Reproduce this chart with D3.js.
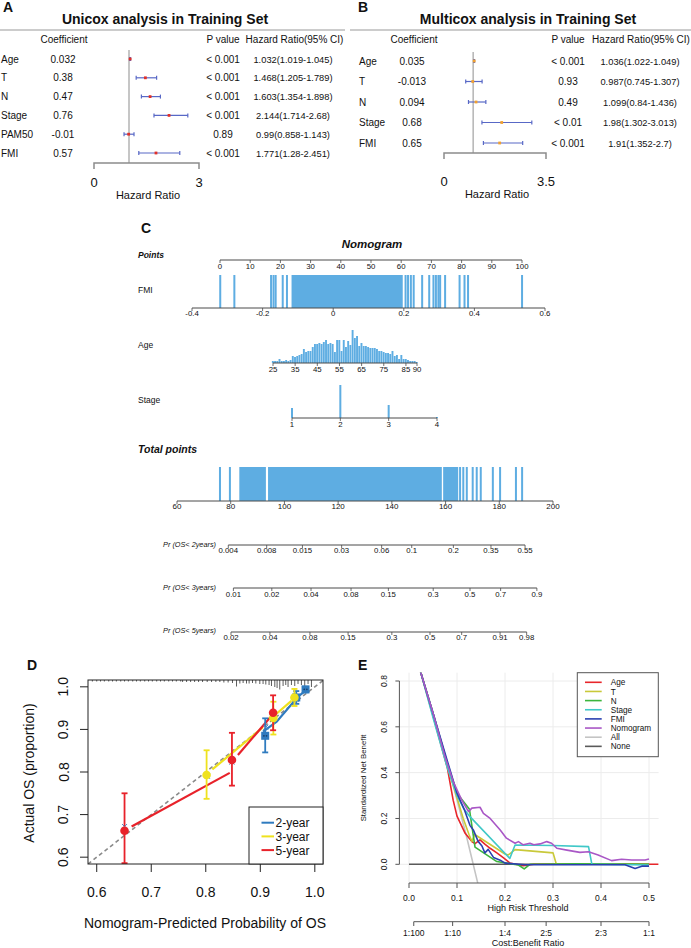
<!DOCTYPE html>
<html>
<head>
<meta charset="utf-8">
<script src="https://cdn.jsdelivr.net/npm/d3@7"></script>
<style>
  body { margin: 0; background: #fff; }
  svg { display: block; }
  text { font-family: "Liberation Sans", Arial, Helvetica, sans-serif; fill: #111; }
</style>
</head>
<body>
<svg id="fig" width="691" height="948"></svg>
<script>
// ---------- panel A : univariate cox ----------
const uniVars = ["Age", "T", "N", "Stage", "PAM50", "FMI"];
const uniCoef = ["0.032", "0.38", "0.47", "0.76", "-0.01", "0.57"];
const uniP = ["< 0.001", "< 0.001", "< 0.001", "< 0.001", "0.89", "< 0.001"];
const uniHR = [1.032, 1.468, 1.603, 2.144, 0.99, 1.771];
const uniLo = [1.019, 1.205, 1.354, 1.714, 0.858, 1.28];
const uniHi = [1.045, 1.789, 1.898, 2.68, 1.143, 2.451];

// ---------- panel B : multivariate cox ----------
const multiVars = ["Age", "T", "N", "Stage", "FMI"];
const multiCoef = ["0.035", "-0.013", "0.094", "0.68", "0.65"];
const multiP = ["< 0.001", "0.93", "0.49", "< 0.01", "< 0.001"];
const multiHR = [1.036, 0.987, 1.099, 1.98, 1.91];
const multiLo = [1.022, 0.745, 0.84, 1.302, 1.352];
const multiHi = [1.049, 1.307, 1.436, 3.013, 2.7];

// ---------- panel C : nomogram ----------
const pointsTicks = [0, 10, 20, 30, 40, 50, 60, 70, 80, 90, 100];
const fmiTicks = [-0.4, -0.2, 0, 0.2, 0.4, 0.6];
const fmiRug = [-0.32, -0.28, -0.176, -0.169, -0.163, -0.143, -0.131, 0.205, 0.212, 0.22, 0.228,
  0.252, 0.272, 0.284, 0.291, 0.298, 0.303, 0.317, 0.358, 0.372, 0.382, 0.535];
const fmiDense = [[-0.118, 0.197]];
const ageTicks = [25, 35, 45, 55, 65, 75, 85, 90];
const ageYears = [25, 26, 27, 28, 29, 30, 31, 32, 33, 34, 35, 36, 37, 38, 39, 40, 41, 42, 43, 44, 45,
  46, 47, 48, 49, 50, 51, 52, 53, 54, 55, 56, 57, 58, 59, 60, 61, 62, 63, 64, 65, 66, 67, 68, 69, 70,
  71, 72, 73, 74, 75, 76, 77, 78, 79, 80, 81, 82, 83, 84, 85, 86, 87, 88, 89, 90];
const ageCounts = [2, 2, 2, 4, 2, 2, 3, 2, 3, 7, 6, 7, 8, 9, 14, 11, 12, 12, 16, 19, 19,
  20, 19, 21, 23, 19, 20, 19, 11, 23, 23, 12, 23, 16, 22, 18, 33, 25, 27, 17, 20, 17, 17, 16, 15, 15,
  15, 14, 12, 12, 11, 10, 10, 9, 12, 7, 8, 4, 8, 4, 4, 3, 2, 2, 2, 1];
const stageLevels = [1, 2, 3, 4];
const stageCounts = [10, 33, 13, 1];
const totalTicks = [60, 80, 100, 120, 140, 160, 180, 200];
const totalRug = [76.0, 79.7, 165.4, 166.6, 167.9, 170.1, 171.6, 173.1, 177.6, 180.3, 186.2, 188.5];
const totalDense = [[83.2, 93.1], [93.9, 158.6], [159.1, 164.7]];
const pr2Labels = ["0.004", "0.008", "0.015", "0.03", "0.06", "0.1", "0.2", "0.35", "0.55"];
const pr2Points = [79.1, 93.4, 106.7, 121.3, 136.2, 147.4, 162.9, 176.9, 189.6];
const pr3Labels = ["0.01", "0.02", "0.04", "0.08", "0.15", "0.3", "0.5", "0.7", "0.9"];
const pr3Points = [81.0, 95.3, 109.9, 124.8, 138.7, 155.4, 169.1, 180.5, 194.0];
const pr5Labels = ["0.02", "0.04", "0.08", "0.15", "0.3", "0.5", "0.7", "0.91", "0.98"];
const pr5Points = [80.1, 94.6, 109.5, 123.7, 140.0, 154.2, 166.0, 180.3, 190.2];

// ---------- panel D : calibration ----------
const calTicks = [0.6, 0.7, 0.8, 0.9, 1.0];
const cal2 = {pred: [0.909, 0.966, 0.983], obs: [0.885, 0.975, 0.994], lo: [0.846, 0.96, 0.987], hi: [0.926, 0.99, 1.0]};
const cal3 = {pred: [0.8015, 0.924, 0.9626], obs: [0.793, 0.927, 0.975], lo: [0.737, 0.888, 0.955], hi: [0.851, 0.965, 0.995]};
const cal5 = {pred: [0.651, 0.848, 0.9235], obs: [0.662, 0.828, 0.939], lo: [0.586, 0.768, 0.898], hi: [0.75, 0.892, 0.98]};
const line2 = [[[0.905, 0.895], [0.93, 0.918], [0.962, 0.966]], [[0.972, 0.98], [0.982, 0.99]]];
const line3 = [[[0.812, 0.806], [0.905, 0.905]], [[0.928, 0.935], [0.957, 0.967]]];
const line5 = [[[0.664, 0.672], [0.844, 0.798]], [[0.859, 0.84], [0.918, 0.928]]];
const corrected = [[0.651, 0.672], [0.848, 0.823], [0.803, 0.79], [0.924, 0.93], [0.91, 0.905], [0.966, 0.97]];
const rugX = [0.592, 0.6, 0.607, 0.614, 0.622, 0.629, 0.636, 0.644, 0.651, 0.658, 0.666, 0.673, 0.68,
  0.688, 0.695, 0.702, 0.71, 0.717, 0.724, 0.732, 0.739, 0.746, 0.754, 0.7575, 0.7648, 0.7722, 0.7795,
  0.7868, 0.7941, 0.8026, 0.8106, 0.8185, 0.8258, 0.8332, 0.841, 0.849, 0.8564, 0.8625, 0.8685, 0.8747,
  0.8795, 0.8857, 0.8918, 0.8991, 0.9051, 0.9101, 0.9161, 0.9205, 0.9266, 0.9308, 0.9357, 0.9418,
  0.9467, 0.9509, 0.9571, 0.9632, 0.9692, 0.9754, 0.9815, 0.9876, 0.9938];
const rugH = [1.5, 1.5, 1.5, 1.5, 1.5, 1.5, 1.5, 1.5, 1.5, 1.5, 1.5, 1.5, 1.5,
  1.5, 1.5, 1.5, 1.5, 1.5, 1.5, 1.5, 1.5, 1.5, 1.5, 2, 2, 2, 2,
  2, 2, 2, 2, 2, 2, 2.5, 2.5, 3, 6.5, 3.5, 3, 3.5,
  3.5, 3, 3.5, 4, 4, 4.5, 5, 6, 7, 8, 9.5, 6,
  5, 7, 5, 6, 4, 5, 6, 4, 7];

// ---------- panel E : decision curves ----------
const dcaTicks = [0, 0.1, 0.2, 0.3, 0.4, 0.5];
const dcaYTicks = [0, 0.2, 0.4, 0.6, 0.8];
const cbLabels = ["1:100", "1:10", "1:4", "2:5", "2:3", "1:1"];
const cbThresholds = [0.0099, 0.0909, 0.2, 0.2857, 0.4, 0.5];
const ageNB = [[0.02, 0.868], [0.025, 0.834], [0.05, 0.65], [0.08, 0.42], [0.092, 0.28], [0.1, 0.21], [0.117, 0.135],
  [0.131, 0.099], [0.1375, 0.09], [0.148, 0.107], [0.158, 0.088], [0.169, 0.07], [0.183, 0.05], [0.197, 0.028],
  [0.21, 0.006], [0.238, -0.006], [0.26, 0.0], [0.52, 0.0]];
const tNB = [[0.02, 0.868], [0.025, 0.834], [0.05, 0.65], [0.08, 0.43], [0.1, 0.29], [0.113, 0.2], [0.125, 0.13],
  [0.131, 0.1], [0.137, 0.13], [0.2, 0.045], [0.207, 0.041], [0.221, 0.064], [0.3, 0.05], [0.307, 0.0], [0.5, 0.0]];
const nNB = [[0.02, 0.868], [0.025, 0.834], [0.05, 0.66], [0.08, 0.44], [0.1, 0.31], [0.115, 0.27], [0.126, 0.24],
  [0.1375, 0.075], [0.183, 0.012], [0.228, -0.003], [0.24, -0.02], [0.252, 0.0], [0.35, 0.002], [0.5, 0.0]];
const stageNB = [[0.02, 0.868], [0.025, 0.834], [0.05, 0.64], [0.08, 0.42], [0.1, 0.3], [0.115, 0.24], [0.127, 0.208],
  [0.21, 0.026], [0.221, 0.084], [0.3, 0.082], [0.374, 0.077], [0.381, 0.0], [0.5, -0.003]];
const fmiNB = [[0.02, 0.868], [0.025, 0.834], [0.05, 0.66], [0.08, 0.45], [0.1, 0.31], [0.115, 0.24], [0.127, 0.17],
  [0.134, 0.15], [0.144, 0.1], [0.152, 0.08], [0.158, 0.05], [0.165, 0.065], [0.176, 0.03], [0.19, 0.018],
  [0.2, 0.005], [0.242, -0.002], [0.45, -0.002], [0.471, -0.018], [0.485, -0.008], [0.5, -0.008]];
const nomoNB = [[0.02, 0.868], [0.025, 0.834], [0.05, 0.66], [0.075, 0.47], [0.0923, 0.36], [0.11, 0.28], [0.124, 0.23],
  [0.131, 0.245], [0.148, 0.249], [0.155, 0.222], [0.169, 0.2], [0.19, 0.15], [0.203, 0.114], [0.221, 0.092],
  [0.228, 0.099], [0.238, 0.085], [0.252, 0.092], [0.26, 0.085], [0.273, 0.089], [0.287, 0.099], [0.297, 0.092],
  [0.308, 0.07], [0.329, 0.062], [0.356, 0.052], [0.374, 0.055], [0.394, 0.041], [0.422, 0.016], [0.443, 0.022],
  [0.464, 0.019], [0.492, 0.019], [0.5, 0.023]];
const allNB = [[0.02, 0.868], [0.025, 0.834], [0.05, 0.66], [0.075, 0.476], [0.1, 0.282], [0.12, 0.12], [0.143, -0.08], [0.147, -0.12]];
const noneNB = [[0, 0], [0.5, 0]];

const svg = d3.select("#fig");

function label(g, x, y, s, size, o = {}) {
  const t = g.append("text").attr("x", x).attr("y", y).text(s)
    .style("font-size", size + "px")
    .attr("text-anchor", o.anchor || "start");
  if (o.weight) t.style("font-weight", o.weight);
  if (o.italic) t.style("font-style", "italic");
  if (o.rotate) t.attr("transform", `rotate(-90,${x},${y})`);
  return t;
}

// ================= forest plots =================
function forest(o) {
  const g = svg.append("g");
  const x = d3.scaleLinear().domain(o.domain).range(o.range);
  const y = d3.scalePoint().domain(o.vars).range(o.rows);

  label(g, o.letterX, 12, o.letter, 14, {weight: "bold"});
  label(g, o.titleX, 24, o.title, 14, {weight: "bold", anchor: "middle"});
  g.append("line").attr("x1", o.rule[0]).attr("x2", o.rule[1]).attr("y1", 30).attr("y2", 30)
    .attr("stroke", "#9a9a9a").attr("stroke-width", 1.2);

  label(g, o.hCoef, 43, "Coefficient", 10, {anchor: "middle"});
  label(g, o.colP, 43, "P value", 10, {anchor: "middle"});
  label(g, o.hHR, 43, "Hazard Ratio(95% CI)", 10, {anchor: "middle"});

  o.vars.forEach((v, i) => {
    const yy = y(v) + 3.5;
    label(g, o.colName, yy, v, 10);
    label(g, o.colCoef, yy, o.coef[i], 10, {anchor: "middle"});
    label(g, o.colP, yy, o.p[i], 10, {anchor: "middle"});
    label(g, o.colHR, yy, `${o.hr[i]}(${o.lo[i]}-${o.hi[i]})`, 9.3, {anchor: "middle"});
  });

  // reference line at HR = 1
  g.append("line").attr("x1", x(1)).attr("x2", x(1))
    .attr("y1", o.rows[0] - 9).attr("y2", o.axisY)
    .attr("stroke", "#a8a8a8").attr("stroke-width", 1.3);

  const ci = g.append("g").attr("stroke", "#5868c6").attr("stroke-width", 1.2);
  o.vars.forEach((v, i) => {
    const yy = y(v);
    ci.append("line").attr("x1", x(o.lo[i])).attr("x2", x(o.hi[i])).attr("y1", yy).attr("y2", yy);
    [o.lo[i], o.hi[i]].forEach(e => ci.append("line")
      .attr("x1", x(e)).attr("x2", x(e)).attr("y1", yy - 2).attr("y2", yy + 2));
  });
  g.selectAll(".dot").data(o.hr).join("rect")
    .attr("x", d => x(d) - 1.4).attr("y", (d, i) => y(o.vars[i]) - 1.4)
    .attr("width", 2.8).attr("height", 2.8).attr("fill", o.dot);

  // axis bracket
  const [d0, d1] = o.domain;
  g.append("path")
    .attr("d", `M${x(d0)},${o.axisY + 6}V${o.axisY}H${x(d1)}V${o.axisY + 6}`)
    .attr("fill", "none").attr("stroke", "#8c8c8c").attr("stroke-width", 1.5);
  o.domain.forEach(t => label(g, x(t), o.tickY, String(t), 13, {anchor: "middle"}));
  label(g, o.hrLabelX, o.hrTitleY, "Hazard Ratio", 11, {anchor: "middle"});
}

forest({
  letter: "A", letterX: 3, title: "Unicox analysis in Training Set", titleX: 165, rule: [0, 345],
  vars: uniVars, coef: uniCoef, p: uniP, hr: uniHR, lo: uniLo, hi: uniHi,
  domain: [0, 3], range: [94, 199], rows: [59, 153], axisY: 163, tickY: 186.5, hrTitleY: 199, hrLabelX: 148,
  colName: 1, colCoef: 63, hCoef: 64, colP: 223, colHR: 293, hHR: 294.5, dot: "#e0302a"
});
forest({
  letter: "B", letterX: 358, title: "Multicox analysis in Training Set", titleX: 528, rule: [350, 691],
  vars: multiVars, coef: multiCoef, p: multiP, hr: multiHR, lo: multiLo, hi: multiHi,
  domain: [0, 3.5], range: [444, 546], rows: [61, 143], axisY: 153, tickY: 186, hrTitleY: 198, hrLabelX: 497,
  colName: 359, colCoef: 412, hCoef: 414, colP: 568, colHR: 640, hHR: 641, dot: "#f0a030"
});

// ================= nomogram =================
const nomo = svg.append("g");
const barColor = "#5eade2";
const ptsX = d3.scaleLinear().domain([0, 100]).range([220, 522]);
const fmiX = d3.scaleLinear().domain([-0.4, 0.6]).range([192, 545]);
const ageX = d3.scaleLinear().domain([25, 90]).range([273, 417]);
const stageX = d3.scaleLinear().domain([1, 4]).range([292, 437]);
const totX = d3.scaleLinear().domain([60, 200]).range([177, 553]);

function nomoAxis(xs, ext, ticks, labels, y, labelY, size) {
  nomo.append("line").attr("x1", xs(ext[0])).attr("x2", xs(ext[1])).attr("y1", y).attr("y2", y)
    .attr("stroke", "#4a4a4a").attr("stroke-width", 1);
  ticks.forEach((t, i) => {
    nomo.append("line").attr("x1", xs(t)).attr("x2", xs(t)).attr("y1", y).attr("y2", y + 3)
      .attr("stroke", "#4a4a4a").attr("stroke-width", 0.8);
    label(nomo, xs(t), labelY, labels[i], size, {anchor: "middle"});
  });
}

label(nomo, 141, 233, "C", 14, {weight: "bold"});
label(nomo, 372, 248, "Nomogram", 11.5, {weight: "bold", italic: true, anchor: "middle"});
label(nomo, 138, 258, "Points", 8.5, {weight: "bold", italic: true});
nomoAxis(ptsX, [0, 100], pointsTicks, pointsTicks.map(String), 260, 268.5, 7.8);

// FMI
label(nomo, 138, 293, "FMI", 8.5);
nomo.selectAll(".fmiDense").data(fmiDense).join("rect")
  .attr("x", d => fmiX(d[0])).attr("width", d => fmiX(d[1]) - fmiX(d[0]))
  .attr("y", 275).attr("height", 33).attr("fill", barColor);
nomo.selectAll(".fmiRug").data(fmiRug).join("rect")
  .attr("x", d => fmiX(d) - 1).attr("width", 2).attr("y", 275).attr("height", 33).attr("fill", barColor);
nomoAxis(fmiX, [-0.4, 0.6], fmiTicks, fmiTicks.map(String), 308, 316, 7.8);

// Age histogram
label(nomo, 138, 348, "Age", 8.5);
const ageH = d3.scaleLinear().domain([0, 33]).range([0, 33]);
nomo.selectAll(".age").data(ageCounts).join("rect")
  .attr("x", (d, i) => ageX(ageYears[i]) - 1.1).attr("width", 1.9)
  .attr("y", d => 363 - ageH(d)).attr("height", d => ageH(d)).attr("fill", barColor);
nomoAxis(ageX, [25, 90], ageTicks, ageTicks.map(String), 363, 372, 7.8);

// Stage
label(nomo, 138, 403, "Stage", 8.5);
const stageH = d3.scaleLinear().domain([0, 33]).range([0, 33]);
nomo.selectAll(".stage").data(stageCounts).join("rect")
  .attr("x", (d, i) => stageX(stageLevels[i]) - 1).attr("width", 2)
  .attr("y", d => 418 - stageH(d)).attr("height", d => stageH(d)).attr("fill", barColor);
nomoAxis(stageX, [1, 4], stageLevels, stageLevels.map(String), 418, 427, 7.8);

// Total points
label(nomo, 138, 453, "Total points", 10.5, {weight: "bold", italic: true});
nomo.selectAll(".totDense").data(totalDense).join("rect")
  .attr("x", d => totX(d[0])).attr("width", d => totX(d[1]) - totX(d[0]))
  .attr("y", 467).attr("height", 34).attr("fill", barColor);
nomo.selectAll(".totRug").data(totalRug).join("rect")
  .attr("x", d => totX(d) - 1).attr("width", 2).attr("y", 467).attr("height", 34).attr("fill", barColor);
nomoAxis(totX, [60, 200], totalTicks, totalTicks.map(String), 501, 509, 8);

// survival probability axes
[[pr2Labels, pr2Points, 545, 552.5, 547, "Pr (OS< 2years)"],
 [pr3Labels, pr3Points, 588, 597, 590, "Pr (OS< 3years)"],
 [pr5Labels, pr5Points, 632, 640, 633, "Pr (OS< 5years)"]].forEach(([labs, pts, y, ly, ty, name]) => {
  nomoAxis(totX, [pts[0], pts[pts.length - 1]], pts, labs, y, ly, 7.8);
  label(nomo, 216, ty, name, 7.3, {italic: true, anchor: "end"});
});

// ================= calibration (D) =================
const cal = svg.append("g");
const xD = d3.scaleLinear().domain([0.584, 1.015]).range([88, 323]);
const yD = d3.scaleLinear().domain([0.584, 1.016]).range([864, 680]);
label(cal, 27, 670, "D", 14, {weight: "bold"});
cal.append("defs").append("clipPath").attr("id", "clipD")
  .append("rect").attr("x", 88).attr("y", 680).attr("width", 235).attr("height", 184);
const inD = cal.append("g").attr("clip-path", "url(#clipD)");

// ideal line
inD.append("line").attr("x1", xD(0.584)).attr("y1", yD(0.584)).attr("x2", xD(1.015)).attr("y2", yD(1.015))
  .attr("stroke", "#8a8a8a").attr("stroke-width", 1.6).attr("stroke-dasharray", "4,3");

// rug of predictions
inD.selectAll(".rug").data(rugX).join("line")
  .attr("x1", d => xD(d)).attr("x2", d => xD(d)).attr("y1", 680).attr("y2", (d, i) => 680 + rugH[i])
  .attr("stroke", "#333").attr("stroke-width", 0.8);

const calLine = d3.line().x(d => xD(d[0])).y(d => yD(d[1]));
const series = [
  {d: cal2, l: line2, c: "#2f7bbf", shape: "square"},
  {d: cal3, l: line3, c: "#efe21e", shape: "circle"},
  {d: cal5, l: line5, c: "#e8222a", shape: "circle"}
];
series.forEach(s => {
  s.l.forEach(seg => inD.append("path").attr("d", calLine(seg)).attr("fill", "none")
    .attr("stroke", s.c).attr("stroke-width", 2.2));
});
series.forEach(s => {
  s.d.pred.forEach((p, i) => {
    const px = xD(p);
    inD.append("line").attr("x1", px).attr("x2", px).attr("y1", yD(s.d.lo[i])).attr("y2", yD(s.d.hi[i]))
      .attr("stroke", s.c).attr("stroke-width", 1.8);
    [s.d.lo[i], s.d.hi[i]].forEach(e => inD.append("line")
      .attr("x1", px - 3).attr("x2", px + 3).attr("y1", yD(e)).attr("y2", yD(e))
      .attr("stroke", s.c).attr("stroke-width", 1.8));
  });
});
// bias-corrected marks
corrected.forEach(c => {
  const cx = xD(c[0]), cy = yD(c[1]);
  inD.append("path").attr("d", `M${cx - 2.5},${cy - 2.5}L${cx + 2.5},${cy + 2.5}M${cx - 2.5},${cy + 2.5}L${cx + 2.5},${cy - 2.5}`)
    .attr("stroke", "#4d86c4").attr("stroke-width", 1);
});
series.forEach(s => {
  s.d.pred.forEach((p, i) => {
    const px = xD(p), py = yD(s.d.obs[i]);
    if (s.shape === "square") {
      inD.append("rect").attr("x", px - 4).attr("y", py - 4).attr("width", 8).attr("height", 8).attr("fill", s.c);
      inD.append("circle").attr("cx", px - 1.3).attr("cy", py).attr("r", 0.9).attr("fill", "#173f6e");
      inD.append("circle").attr("cx", px + 1.3).attr("cy", py).attr("r", 0.9).attr("fill", "#173f6e");
    } else {
      inD.append("circle").attr("cx", px).attr("cy", py).attr("r", 4.3).attr("fill", s.c);
    }
  });
});

cal.append("rect").attr("x", 88).attr("y", 680).attr("width", 235).attr("height", 184)
  .attr("fill", "none").attr("stroke", "#222").attr("stroke-width", 1);
calTicks.forEach(t => {
  cal.append("line").attr("x1", xD(t)).attr("x2", xD(t)).attr("y1", 864).attr("y2", 872).attr("stroke", "#222");
  label(cal, xD(t), 897, t.toFixed(1), 14, {anchor: "middle"});
  cal.append("line").attr("x1", 80).attr("x2", 88).attr("y1", yD(t)).attr("y2", yD(t)).attr("stroke", "#222");
  label(cal, 68.5, yD(t), t.toFixed(1), 14, {anchor: "middle", rotate: true});
});
label(cal, 205, 928, "Nomogram-Predicted Probability of OS", 14, {anchor: "middle"});
label(cal, 33.5, 773, "Actual OS (proportion)", 14, {anchor: "middle", rotate: true});

// legend
cal.append("rect").attr("x", 249).attr("y", 807).attr("width", 74).attr("height", 57)
  .attr("fill", "#fff").attr("stroke", "#222").attr("stroke-width", 1);
[["2-year", "#2f7bbf"], ["3-year", "#efe21e"], ["5-year", "#e8222a"]].forEach(([n, c], i) => {
  const ly = 822.7 + i * 13.7;
  cal.append("line").attr("x1", 261.5).attr("x2", 274).attr("y1", ly).attr("y2", ly)
    .attr("stroke", c).attr("stroke-width", 2);
  label(cal, 275.5, ly + 4.5, n, 12);
});

// ================= decision curves (E) =================
const dca = svg.append("g");
const xE = d3.scaleLinear().domain([0, 0.5]).range([409, 649]);
const yE = d3.scaleLinear().domain([0, 0.8]).range([864.3, 681]);
const plotE = {x0: 399.4, x1: 658.6, y0: 672.7, y1: 883};
label(dca, 358, 670, "E", 14, {weight: "bold"});

// grid
dcaTicks.forEach(t => dca.append("line").attr("x1", xE(t)).attr("x2", xE(t))
  .attr("y1", plotE.y0).attr("y2", plotE.y1).attr("stroke", "#ececec").attr("stroke-width", 1));
dcaYTicks.forEach(t => dca.append("line").attr("x1", plotE.x0).attr("x2", plotE.x1)
  .attr("y1", yE(t)).attr("y2", yE(t)).attr("stroke", "#ececec").attr("stroke-width", 1));

dca.append("defs").append("clipPath").attr("id", "clipE")
  .append("rect").attr("x", plotE.x0).attr("y", plotE.y0)
  .attr("width", plotE.x1 - plotE.x0).attr("height", plotE.y1 - plotE.y0);
const inE = dca.append("g").attr("clip-path", "url(#clipE)");
const nbLine = d3.line().x(d => xE(d[0])).y(d => yE(d[1]));
const curves = [
  {n: "Age", d: ageNB, c: "#e8262b"},
  {n: "T", d: tNB, c: "#c9c93a"},
  {n: "N", d: nNB, c: "#3db53d"},
  {n: "Stage", d: stageNB, c: "#40c8c8"},
  {n: "FMI", d: fmiNB, c: "#2a40b0"},
  {n: "Nomogram", d: nomoNB, c: "#a957c6"},
  {n: "All", d: allNB, c: "#c4c4c4"},
  {n: "None", d: noneNB, c: "#5a5a5a"}
];
[6, 7, 0, 1, 2, 3, 4, 5].forEach(k => {
  const cv = curves[k];
  inE.append("path").attr("d", nbLine(cv.d)).attr("fill", "none")
    .attr("stroke", cv.c).attr("stroke-width", 1.6).attr("stroke-linejoin", "round");
});

// y axis
dca.append("line").attr("x1", plotE.x0).attr("x2", plotE.x0).attr("y1", yE(0)).attr("y2", yE(0.8))
  .attr("stroke", "#555");
dcaYTicks.forEach(t => {
  dca.append("line").attr("x1", plotE.x0 - 4).attr("x2", plotE.x0).attr("y1", yE(t)).attr("y2", yE(t)).attr("stroke", "#555");
  label(dca, 386.7, yE(t), t.toFixed(1), 8.5, {anchor: "middle", rotate: true});
});
label(dca, 365.5, 778, "Standardized Net Benefit", 7.8, {anchor: "middle", rotate: true});

// threshold axis
dca.append("line").attr("x1", xE(0)).attr("x2", xE(0.5)).attr("y1", 883).attr("y2", 883).attr("stroke", "#555");
dcaTicks.forEach(t => {
  dca.append("line").attr("x1", xE(t)).attr("x2", xE(t)).attr("y1", 883).attr("y2", 888).attr("stroke", "#555");
  label(dca, xE(t), 900.5, t.toFixed(1), 8.5, {anchor: "middle"});
});
label(dca, 528, 911, "High Risk Threshold", 9, {anchor: "middle"});

// cost:benefit axis
dca.append("line").attr("x1", xE(cbThresholds[0])).attr("x2", xE(0.5)).attr("y1", 921.7).attr("y2", 921.7).attr("stroke", "#555");
cbThresholds.forEach((t, i) => {
  dca.append("line").attr("x1", xE(t)).attr("x2", xE(t)).attr("y1", 921.7).attr("y2", 926).attr("stroke", "#555");
  label(dca, xE(t), 936, cbLabels[i], 8.5, {anchor: "middle"});
});
label(dca, 528, 946, "Cost:Benefit Ratio", 9, {anchor: "middle"});

// legend
dca.append("rect").attr("x", 577.3).attr("y", 672.7).attr("width", 81).attr("height", 84)
  .attr("fill", "#fff").attr("stroke", "#555").attr("stroke-width", 1);
curves.forEach((cv, i) => {
  const ly = 682.3 + i * 9.15;
  dca.append("line").attr("x1", 585).attr("x2", 601.7).attr("y1", ly).attr("y2", ly)
    .attr("stroke", cv.c).attr("stroke-width", 1.6);
  label(dca, 610.7, ly + 3.1, cv.n, 8.2);
});
</script>
</body>
</html>
